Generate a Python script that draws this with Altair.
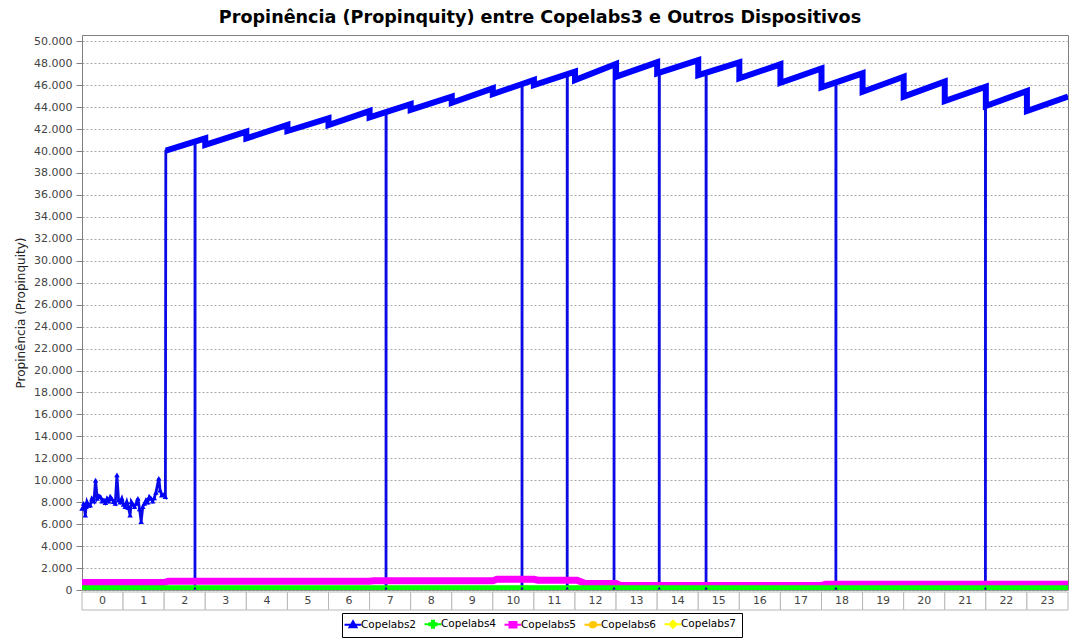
import altair as alt
import pandas as pd

title_text = "Propinência (Propinquity) entre Copelabs3 e Outros Dispositivos"
y_title = "Propinência (Propinquity)"
series_names = ["Copelabs2", "Copelabs4", "Copelabs5", "Copelabs6", "Copelabs7"]
series_colors = ["#0000ff", "#00ff00", "#ff00ff", "#ffc800", "#ffff00"]
hour_labels = [str(i) for i in range(24)]
y_ticks = list(range(0, 50001, 2000))

# Copelabs2: first two hours (noisy)
c2_early_hours = [0.00, 0.04, 0.08, 0.10, 0.12, 0.16, 0.20, 0.24, 0.29, 0.33, 0.37, 0.41, 0.45,
                  0.49, 0.53, 0.57, 0.61, 0.65, 0.69, 0.73, 0.77, 0.81, 0.85, 0.89, 0.93, 0.97,
                  1.01, 1.05, 1.09, 1.13, 1.17, 1.20, 1.24, 1.28, 1.32, 1.36, 1.40, 1.44, 1.48,
                  1.52, 1.56, 1.60, 1.64, 1.68, 1.72, 1.76, 1.80, 1.87, 1.90, 1.94, 1.98, 2.03]
c2_early_values = [7440, 7900, 6830, 7600, 8050, 7700, 7740, 8350, 8100, 10020, 8350, 8600, 8500,
                   8100, 8200, 7950, 8350, 8100, 8500, 8300, 8050, 7900, 10480, 8200, 8000, 8350,
                   7800, 7590, 8050, 7500, 6830, 8050, 7800, 7590, 7900, 8350, 7400, 6230, 7590,
                   7900, 8200, 8000, 8500, 8350, 8100, 8400, 8900, 10170, 9110, 8650, 8700, 8500]

# Copelabs2: hourly sawtooth segments
c2_seg_start_hours = [2.04, 3, 4, 5, 6, 7, 8, 9, 10, 11, 12, 13, 14, 15, 16, 17, 18, 19, 20, 21, 22, 23]
c2_seg_end_hours = [3, 4, 5, 6, 7, 8, 9, 10, 11, 12, 13, 14, 15, 16, 17, 18, 19, 20, 21, 22, 23, 24]
c2_seg_start_values = [40030, 40550, 41150, 41820, 42370, 43070, 43740, 44400, 45190, 46010, 46470,
                       46770, 47080, 46920, 46620, 46220, 45800, 45400, 44950, 44560, 44100, 43640]
c2_seg_end_values = [41150, 41760, 42370, 42980, 43640, 44280, 44950, 45710, 46470, 47230, 47930,
                     48080, 48290, 48080, 47900, 47530, 47080, 46770, 46320, 45860, 45470, 44950]

# Copelabs2: short drops to the floor
c2_drop_hours = [2.75, 7.40, 10.71, 11.81, 12.95, 14.05, 15.19, 18.35, 21.99]
c2_drop_levels = [40900, 43550, 46100, 47000, 47860, 47140, 47140, 46250, 45850]
c2_drop_floor = 180

# Copelabs5 (magenta)
c5_hours = [0, 2.0, 2.1, 7.0, 7.1, 10.0, 10.1, 11.0, 11.1, 12.05, 12.25, 13.0, 13.1, 18.0, 18.1, 24]
c5_values = [680, 680, 800, 800, 840, 840, 980, 980, 890, 890, 590, 590, 410, 410, 530, 530]

# Copelabs4 (green), Copelabs6 (orange), Copelabs7 (yellow)
c4_hours = [0, 24]
c4_values = [200, 200]
c6_hours = [0, 24]
c6_values = [150, 150]
c7_hours = [0, 24]
c7_values = [120, 120]

# ---------- build tables ----------
thin_rows = []
for h, v in zip(c2_early_hours, c2_early_values):
    thin_rows.append({"hour": h, "value": v})
for sh, eh, sv, ev in zip(c2_seg_start_hours, c2_seg_end_hours, c2_seg_start_values, c2_seg_end_values):
    thin_rows.append({"hour": sh, "value": sv})
    for dh, dl in zip(c2_drop_hours, c2_drop_levels):
        if sh <= dh < eh:
            thin_rows.append({"hour": dh, "value": dl})
            thin_rows.append({"hour": dh, "value": c2_drop_floor})
            thin_rows.append({"hour": dh + 0.004, "value": dl})
    thin_rows.append({"hour": eh, "value": ev})
for i, r in enumerate(thin_rows):
    r["idx"] = i
thin_df = pd.DataFrame(thin_rows)

thick_rows = []
for sh, eh, sv, ev in zip(c2_seg_start_hours, c2_seg_end_hours, c2_seg_start_values, c2_seg_end_values):
    thick_rows.append({"hour": sh, "value": sv})
    thick_rows.append({"hour": eh, "value": ev})
for i, r in enumerate(thick_rows):
    r["idx"] = i
thick_df = pd.DataFrame(thick_rows)

early_df = pd.DataFrame({"hour": c2_early_hours, "value": c2_early_values})
floor_df = pd.DataFrame({"hour": c2_drop_hours, "value": [c2_drop_floor] * len(c2_drop_hours)})
c5_df = pd.DataFrame({"hour": c5_hours, "value": c5_values})
c4_df = pd.DataFrame({"hour": c4_hours, "value": c4_values})
c6_df = pd.DataFrame({"hour": c6_hours, "value": c6_values})
c7_df = pd.DataFrame({"hour": c7_hours, "value": c7_values})
box_df = pd.DataFrame({"hour": list(range(24)), "hour2": list(range(1, 25)),
                       "mid": [i + 0.5 for i in range(24)], "label": hour_labels})
legend_df = pd.DataFrame({"series": series_names, "hour": [None] * 5, "value": [None] * 5})

X = alt.X("hour:Q", scale=alt.Scale(domain=[0, 24], nice=False, zero=False),
          axis=alt.Axis(values=list(range(25)), labels=False, ticks=False, domain=False, title=None,
                        grid=True, gridColor="#cfcfcf", gridDash=[3, 2], gridWidth=1))
Y = alt.Y("value:Q", scale=alt.Scale(domain=[0, 50570], nice=False),
          axis=alt.Axis(values=y_ticks, labelExpr="replace(format(datum.value, ','), ',', '.')",
                        title=y_title, titleX=-62, titleY=277.5, titleAngle=-90, titleBaseline="middle",
                        titleFontSize=12, titleFontWeight="normal", titleColor="#222222",
                        labelFontSize=11, labelColor="#444444", labelPadding=4,
                        tickSize=6, tickColor="#808080", domainColor="#808080",
                        grid=True, gridColor="#a8a8a8", gridDash=[2, 2], gridWidth=1))

boxes = alt.Chart(box_df).mark_rect(fill="white", stroke="#b8b8b8", strokeWidth=1).encode(
    x=alt.X("hour:Q", scale=alt.Scale(domain=[0, 24], nice=False, zero=False), axis=None),
    x2="hour2:Q", y=alt.value(557), y2=alt.value(575))
labels = alt.Chart(box_df).mark_text(fontSize=11, color="#444444", baseline="middle", align="center").encode(
    x=alt.X("mid:Q", axis=None), y=alt.value(566), text="label:N")

c7_line = alt.Chart(c7_df).mark_line(color=series_colors[4], strokeWidth=5, clip=True).encode(x=X, y=Y)
c6_line = alt.Chart(c6_df).mark_line(color=series_colors[3], strokeWidth=5, clip=True).encode(x=X, y=Y)
blue_thin = alt.Chart(thin_df).mark_line(color="#0a0ae6", strokeWidth=2.8, clip=True).encode(
    x=X, y=Y, order="idx:Q")
blue_thick = alt.Chart(thick_df).mark_line(color="#0000ff", strokeWidth=6, clip=True,
                                           strokeJoin="miter").encode(x=X, y=Y, order="idx:Q")
blue_pts = alt.Chart(early_df).mark_point(shape="triangle-up", filled=True, size=30, opacity=1,
                                          color="#0000ff").encode(x=X, y=Y)
c5_line = alt.Chart(c5_df).mark_line(color=series_colors[2], strokeWidth=7, clip=True).encode(x=X, y=Y)
c4_line = alt.Chart(c4_df).mark_line(color=series_colors[1], strokeWidth=5, clip=True).encode(x=X, y=Y)
floor_pts = alt.Chart(floor_df).mark_point(shape="triangle-up", filled=True, size=10, opacity=1,
                                           color="#0000a0", clip=True).encode(x=X, y=Y)

legend_shapes = [
    "M-1.7,0H1.7M0,-0.7L0.7,0.5L-0.7,0.5Z",
    "M-1.7,0H1.7M-0.2,-0.7H0.2V-0.2H0.7V0.2H0.2V0.7H-0.2V0.2H-0.7V-0.2H-0.2Z",
    "M-1.7,0H1.7M-0.7,-0.55H0.7V0.55H-0.7Z",
    "M-1.7,0H1.7M-0.65,0A0.65,0.55 0 1,0 0.65,0A0.65,0.55 0 1,0 -0.65,0Z",
    "M-1.7,0H1.7M0,-0.7L0.7,0L0,0.7L-0.7,0Z",
]
leg = alt.Legend(title=None, orient="none", legendX=260, legendY=578, direction="horizontal", columns=5,
                 symbolSize=100, labelOffset=2, columnPadding=3, padding=5,
                 strokeColor="black", fillColor="white", labelFontSize=10.5, labelColor="black",
                 symbolStrokeWidth=2, labelFont="DejaVu Sans")
legend_layer = alt.Chart(legend_df).mark_point(filled=True, size=100, strokeWidth=2, opacity=1).encode(
    x=X, y=Y,
    fill=alt.Fill("series:N", scale=alt.Scale(domain=series_names, range=series_colors), legend=leg),
    stroke=alt.Stroke("series:N", scale=alt.Scale(domain=series_names, range=series_colors), legend=leg),
    shape=alt.Shape("series:N", scale=alt.Scale(domain=series_names, range=legend_shapes), legend=leg),
)

chart = alt.layer(
    boxes, labels, c7_line, c6_line, blue_thin, blue_thick, blue_pts, c5_line, c4_line, floor_pts, legend_layer
).properties(
    width=986, height=555,
    padding={"left": 74, "top": 27, "right": 4, "bottom": 49},
    autosize=alt.AutoSizeParams(type="none"),
    title=alt.TitleParams(text=title_text, fontSize=17.6, font="DejaVu Sans", fontWeight="bold",
                          anchor="middle", dx=-35, offset=8, color="black"),
).configure(font="DejaVu Sans").configure_view(stroke="#808080", strokeWidth=1)

chart.save("out.html", embed_options={"renderer": "svg", "actions": False})
